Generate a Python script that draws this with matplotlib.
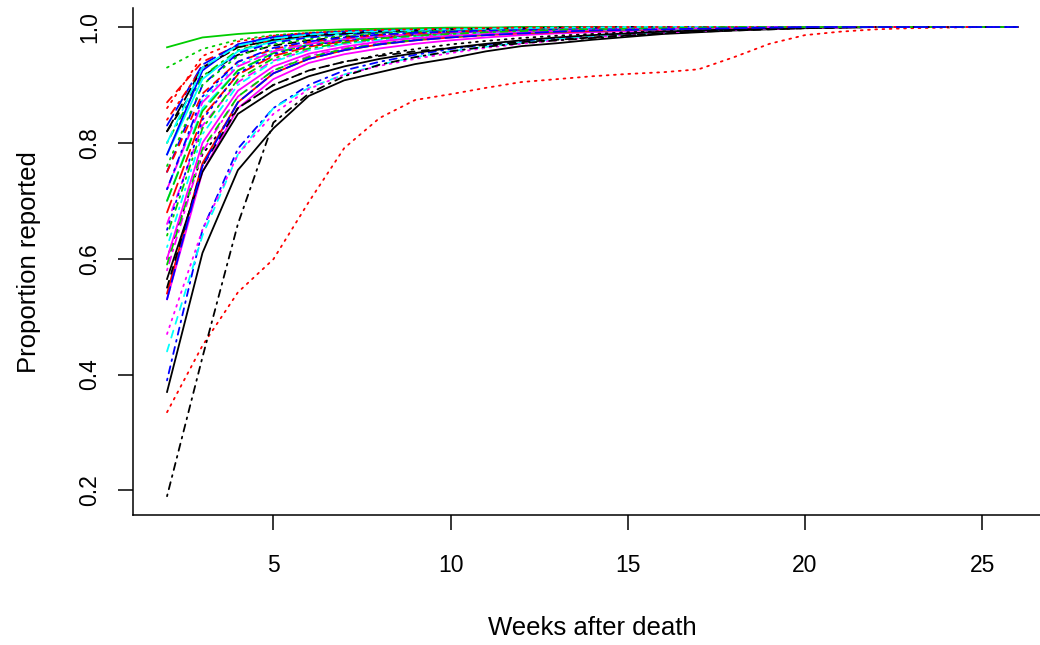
from matplotlib import pyplot as plt

weeks = list(range(2, 27))

# proportion reported by weeks after death, one curve per group (matplot order)
curve_00 = [0.37, 0.61, 0.753, 0.825, 0.881, 0.908, 0.922, 0.936, 0.946, 0.958, 0.967, 0.972, 0.978,
            0.983, 0.988, 0.991, 0.994, 0.996, 0.998, 0.999, 1.0, 1.0, 1.0, 1.0, 1.0]
curve_01 = [0.87, 0.94, 0.968, 0.98, 0.986, 0.99, 0.993, 0.995, 0.996, 0.997, 0.998, 0.998, 0.999,
            0.999, 1.0, 1.0, 1.0, 1.0, 1.0, 1.0, 1.0, 1.0, 1.0, 1.0, 1.0]
curve_02 = [0.93, 0.962, 0.978, 0.986, 0.99, 0.993, 0.995, 0.996, 0.997, 0.998, 0.999, 0.999, 1.0,
            1.0, 1.0, 1.0, 1.0, 1.0, 1.0, 1.0, 1.0, 1.0, 1.0, 1.0, 1.0]
curve_03 = [0.39, 0.65, 0.79, 0.86, 0.90, 0.925, 0.94, 0.952, 0.962, 0.97, 0.976, 0.981, 0.985,
            0.989, 0.992, 0.994, 0.996, 0.998, 0.999, 1.0, 1.0, 1.0, 1.0, 1.0, 1.0]
curve_04 = [0.70, 0.86, 0.925, 0.955, 0.97, 0.978, 0.984, 0.988, 0.991, 0.993, 0.995, 0.996, 0.997,
            0.998, 0.999, 0.999, 1.0, 1.0, 1.0, 1.0, 1.0, 1.0, 1.0, 1.0, 1.0]
curve_05 = [0.53, 0.75, 0.86, 0.91, 0.938, 0.953, 0.963, 0.971, 0.977, 0.982, 0.986, 0.989, 0.991,
            0.993, 0.995, 0.997, 0.998, 0.999, 1.0, 1.0, 1.0, 1.0, 1.0, 1.0, 1.0]
curve_06 = [0.82, 0.915, 0.952, 0.968, 0.977, 0.983, 0.987, 0.99, 0.992, 0.994, 0.995, 0.996, 0.997,
            0.998, 0.999, 0.999, 1.0, 1.0, 1.0, 1.0, 1.0, 1.0, 1.0, 1.0, 1.0]
curve_07 = [0.335, 0.45, 0.542, 0.599, 0.698, 0.791, 0.843, 0.874, 0.884, 0.895, 0.905, 0.91, 0.915,
            0.919, 0.922, 0.927, 0.948, 0.971, 0.986, 0.992, 0.996, 0.998, 0.999, 1.0, 1.0]
curve_08 = [0.80, 0.915, 0.96, 0.976, 0.984, 0.989, 0.992, 0.994, 0.996, 0.997, 0.998, 0.999, 0.999,
            1.0, 1.0, 1.0, 1.0, 1.0, 1.0, 1.0, 1.0, 1.0, 1.0, 1.0, 1.0]
curve_09 = [0.83, 0.935, 0.97, 0.982, 0.988, 0.992, 0.994, 0.996, 0.997, 0.998, 0.999, 0.999, 1.0,
            1.0, 1.0, 1.0, 1.0, 1.0, 1.0, 1.0, 1.0, 1.0, 1.0, 1.0, 1.0]
curve_10 = [0.78, 0.91, 0.958, 0.975, 0.983, 0.988, 0.991, 0.993, 0.995, 0.996, 0.997, 0.998, 0.999,
            0.999, 1.0, 1.0, 1.0, 1.0, 1.0, 1.0, 1.0, 1.0, 1.0, 1.0, 1.0]
curve_11 = [0.66, 0.83, 0.905, 0.942, 0.96, 0.971, 0.978, 0.983, 0.987, 0.99, 0.992, 0.994, 0.995,
            0.996, 0.997, 0.998, 0.999, 1.0, 1.0, 1.0, 1.0, 1.0, 1.0, 1.0, 1.0]
curve_12 = [0.60, 0.78, 0.86, 0.90, 0.925, 0.94, 0.952, 0.962, 0.97, 0.976, 0.981, 0.985, 0.988,
            0.991, 0.993, 0.995, 0.997, 0.998, 0.999, 1.0, 1.0, 1.0, 1.0, 1.0, 1.0]
curve_13 = [0.84, 0.93, 0.965, 0.978, 0.985, 0.99, 0.993, 0.995, 0.996, 0.997, 0.998, 0.999, 0.999,
            1.0, 1.0, 1.0, 1.0, 1.0, 1.0, 1.0, 1.0, 1.0, 1.0, 1.0, 1.0]
curve_14 = [0.70, 0.855, 0.925, 0.955, 0.969, 0.977, 0.983, 0.987, 0.99, 0.992, 0.994, 0.995, 0.996,
            0.997, 0.998, 0.999, 1.0, 1.0, 1.0, 1.0, 1.0, 1.0, 1.0, 1.0, 1.0]
curve_15 = [0.78, 0.925, 0.97, 0.983, 0.989, 0.992, 0.994, 0.996, 0.997, 0.998, 0.999, 0.999, 1.0,
            1.0, 1.0, 1.0, 1.0, 1.0, 1.0, 1.0, 1.0, 1.0, 1.0, 1.0, 1.0]
curve_16 = [0.44, 0.64, 0.78, 0.86, 0.895, 0.918, 0.935, 0.948, 0.958, 0.966, 0.973, 0.979, 0.984,
            0.988, 0.991, 0.994, 0.996, 0.998, 0.999, 1.0, 1.0, 1.0, 1.0, 1.0, 1.0]
curve_17 = [0.47, 0.65, 0.78, 0.85, 0.893, 0.918, 0.933, 0.945, 0.955, 0.964, 0.971, 0.977, 0.982,
            0.987, 0.99, 0.993, 0.995, 0.997, 0.998, 0.999, 1.0, 1.0, 1.0, 1.0, 1.0]
curve_18 = [0.19, 0.43, 0.66, 0.835, 0.885, 0.915, 0.935, 0.948, 0.958, 0.966, 0.972, 0.977, 0.981,
            0.985, 0.989, 0.992, 0.995, 0.997, 0.998, 0.999, 1.0, 1.0, 1.0, 1.0, 1.0]
curve_19 = [0.68, 0.845, 0.918, 0.95, 0.966, 0.975, 0.981, 0.986, 0.989, 0.992, 0.994, 0.995, 0.996,
            0.997, 0.998, 0.999, 1.0, 1.0, 1.0, 1.0, 1.0, 1.0, 1.0, 1.0, 1.0]
curve_20 = [0.965, 0.982, 0.988, 0.992, 0.994, 0.996, 0.997, 0.998, 0.999, 0.999, 1.0, 1.0, 1.0,
            1.0, 1.0, 1.0, 1.0, 1.0, 1.0, 1.0, 1.0, 1.0, 1.0, 1.0, 1.0]
curve_21 = [0.75, 0.9, 0.955, 0.973, 0.982, 0.987, 0.99, 0.993, 0.995, 0.996, 0.997, 0.998, 0.999,
            0.999, 1.0, 1.0, 1.0, 1.0, 1.0, 1.0, 1.0, 1.0, 1.0, 1.0, 1.0]
curve_22 = [0.72, 0.875, 0.935, 0.96, 0.972, 0.98, 0.985, 0.988, 0.991, 0.993, 0.995, 0.996, 0.997,
            0.998, 0.999, 0.999, 1.0, 1.0, 1.0, 1.0, 1.0, 1.0, 1.0, 1.0, 1.0]
curve_23 = [0.58, 0.785, 0.88, 0.925, 0.95, 0.963, 0.972, 0.978, 0.983, 0.987, 0.99, 0.992, 0.994,
            0.995, 0.997, 0.998, 0.999, 1.0, 1.0, 1.0, 1.0, 1.0, 1.0, 1.0, 1.0]
curve_24 = [0.82, 0.93, 0.965, 0.978, 0.985, 0.989, 0.992, 0.994, 0.996, 0.997, 0.998, 0.999, 0.999,
            1.0, 1.0, 1.0, 1.0, 1.0, 1.0, 1.0, 1.0, 1.0, 1.0, 1.0, 1.0]
curve_25 = [0.54, 0.765, 0.87, 0.92, 0.945, 0.96, 0.97, 0.977, 0.982, 0.986, 0.989, 0.991, 0.993,
            0.995, 0.996, 0.997, 0.998, 0.999, 1.0, 1.0, 1.0, 1.0, 1.0, 1.0, 1.0]
curve_26 = [0.59, 0.79, 0.88, 0.925, 0.948, 0.962, 0.971, 0.978, 0.983, 0.987, 0.99, 0.992, 0.994,
            0.995, 0.996, 0.997, 0.998, 0.999, 1.0, 1.0, 1.0, 1.0, 1.0, 1.0, 1.0]
curve_27 = [0.65, 0.84, 0.92, 0.953, 0.968, 0.977, 0.983, 0.987, 0.99, 0.992, 0.994, 0.995, 0.996,
            0.997, 0.998, 0.999, 1.0, 1.0, 1.0, 1.0, 1.0, 1.0, 1.0, 1.0, 1.0]
curve_28 = [0.62, 0.815, 0.9, 0.94, 0.96, 0.971, 0.978, 0.983, 0.987, 0.99, 0.992, 0.994, 0.995,
            0.996, 0.997, 0.998, 0.999, 1.0, 1.0, 1.0, 1.0, 1.0, 1.0, 1.0, 1.0]
curve_29 = [0.72, 0.87, 0.932, 0.958, 0.971, 0.979, 0.984, 0.988, 0.991, 0.993, 0.995, 0.996, 0.997,
            0.998, 0.999, 0.999, 1.0, 1.0, 1.0, 1.0, 1.0, 1.0, 1.0, 1.0, 1.0]
curve_30 = [0.565, 0.75, 0.85, 0.89, 0.915, 0.932, 0.945, 0.955, 0.964, 0.971, 0.977, 0.982, 0.986,
            0.989, 0.992, 0.994, 0.996, 0.998, 0.999, 1.0, 1.0, 1.0, 1.0, 1.0, 1.0]
curve_31 = [0.75, 0.885, 0.94, 0.962, 0.974, 0.981, 0.986, 0.989, 0.992, 0.994, 0.995, 0.996, 0.997,
            0.998, 0.999, 0.999, 1.0, 1.0, 1.0, 1.0, 1.0, 1.0, 1.0, 1.0, 1.0]
curve_32 = [0.76, 0.9, 0.95, 0.97, 0.979, 0.985, 0.989, 0.992, 0.994, 0.995, 0.996, 0.997, 0.998,
            0.999, 0.999, 1.0, 1.0, 1.0, 1.0, 1.0, 1.0, 1.0, 1.0, 1.0, 1.0]
curve_33 = [0.72, 0.88, 0.94, 0.964, 0.975, 0.982, 0.987, 0.99, 0.992, 0.994, 0.995, 0.996, 0.997,
            0.998, 0.999, 1.0, 1.0, 1.0, 1.0, 1.0, 1.0, 1.0, 1.0, 1.0, 1.0]
curve_34 = [0.80, 0.93, 0.968, 0.98, 0.987, 0.991, 0.993, 0.995, 0.996, 0.997, 0.998, 0.999, 0.999,
            1.0, 1.0, 1.0, 1.0, 1.0, 1.0, 1.0, 1.0, 1.0, 1.0, 1.0, 1.0]
curve_35 = [0.60, 0.80, 0.89, 0.932, 0.954, 0.966, 0.975, 0.981, 0.985, 0.988, 0.991, 0.993, 0.995,
            0.996, 0.997, 0.998, 0.999, 1.0, 1.0, 1.0, 1.0, 1.0, 1.0, 1.0, 1.0]
curve_36 = [0.55, 0.76, 0.86, 0.90, 0.925, 0.94, 0.95, 0.958, 0.964, 0.969, 0.974, 0.978, 0.982,
            0.986, 0.989, 0.992, 0.994, 0.996, 0.998, 0.999, 1.0, 1.0, 1.0, 1.0, 1.0]
curve_37 = [0.86, 0.95, 0.975, 0.985, 0.99, 0.993, 0.995, 0.996, 0.997, 0.998, 0.999, 0.999, 1.0,
            1.0, 1.0, 1.0, 1.0, 1.0, 1.0, 1.0, 1.0, 1.0, 1.0, 1.0, 1.0]
curve_38 = [0.64, 0.825, 0.91, 0.946, 0.963, 0.973, 0.98, 0.985, 0.988, 0.991, 0.993, 0.995, 0.996,
            0.997, 0.998, 0.999, 1.0, 1.0, 1.0, 1.0, 1.0, 1.0, 1.0, 1.0, 1.0]
curve_39 = [0.53, 0.76, 0.87, 0.92, 0.945, 0.96, 0.97, 0.977, 0.982, 0.986, 0.989, 0.992, 0.994,
            0.995, 0.996, 0.997, 0.998, 0.999, 1.0, 1.0, 1.0, 1.0, 1.0, 1.0, 1.0]

x_ticks = [5, 10, 15, 20, 25]
y_ticks = [0.2, 0.4, 0.6, 0.8, 1.0]

# R matplot defaults: col = 1:6, lty = 1:5
colours = ["black", "#FF0000", "#00CD00", "#0000FF", "#00FFFF", "#FF00FF"]
line_types = ["-", (0, (4, 4)), (0, (1, 3)), (0, (1, 3, 4, 3)), (0, (7, 3))]


def main():
    curves = [curve_00, curve_01, curve_02, curve_03, curve_04, curve_05, curve_06, curve_07,
              curve_08, curve_09, curve_10, curve_11, curve_12, curve_13, curve_14, curve_15,
              curve_16, curve_17, curve_18, curve_19, curve_20, curve_21, curve_22, curve_23,
              curve_24, curve_25, curve_26, curve_27, curve_28, curve_29, curve_30, curve_31,
              curve_32, curve_33, curve_34, curve_35, curve_36, curve_37, curve_38, curve_39]

    plt.rcParams['font.family'] = ['Liberation Sans', 'DejaVu Sans']
    fig = plt.figure(figsize=(10.4, 6.45), dpi=100)
    ax = fig.add_axes([0.1279, 0.2016, 0.8832, 0.7856])

    for i, c in enumerate(curves):
        ax.plot(weeks, c, color=colours[i % 6], linestyle=line_types[i % 5],
                linewidth=1.3, dash_capstyle='round')

    ax.set_xlim(1.04, 26.96)
    ax.set_ylim(0.1576, 1.0324)
    ax.spines['top'].set_visible(False)
    ax.spines['right'].set_visible(False)
    for s in ['left', 'bottom']:
        ax.spines[s].set_linewidth(1.1)

    ax.set_xticks(x_ticks)
    ax.set_yticks(y_ticks)
    ax.set_yticklabels([f"{v:.1f}" for v in y_ticks], rotation=90, va='center')
    ax.tick_params(axis='both', direction='out', length=10.8, width=1.1, labelsize=16.5)
    ax.tick_params(axis='x', pad=17)
    ax.tick_params(axis='y', pad=12)

    ax.set_xlabel("Weeks after death", fontsize=18.5)
    ax.set_ylabel("Proportion reported", fontsize=18.5)
    ax.xaxis.set_label_coords(0.5, -0.223)
    ax.xaxis.label.set_va('center')
    ax.yaxis.set_label_coords(-0.1132, 0.5)
    ax.yaxis.label.set_va('center')

    fig.savefig("out.png", dpi=100)


if __name__ == "__main__":
    main()
